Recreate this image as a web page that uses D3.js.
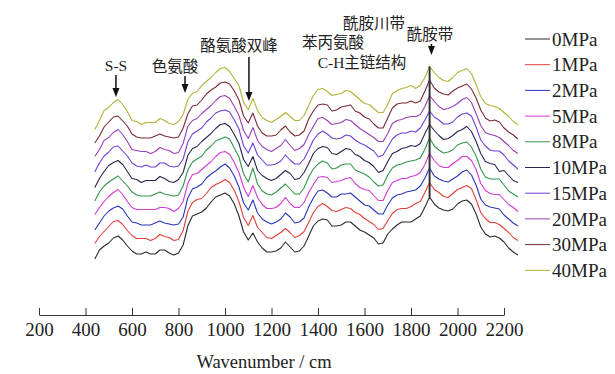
<!DOCTYPE html>
<html>
<head>
<meta charset="utf-8">
<script src="https://cdn.jsdelivr.net/npm/d3@7"></script>
<style>
  body { margin: 0; background: #fff; }
  svg { display: block; }
</style>
</head>
<body>
<div id="chart"></div>
<script>
// legend names and line colours, bottom spectrum first
const pressures = ['0MPa', '1MPa', '2MPa', '5MPa', '8MPa', '10MPa', '15MPa', '20MPa', '30MPa', '40MPa'];
const colors = ['#2b2b2b', '#e0413a', '#2c36b8', '#d23ad6', '#33954a', '#262650', '#7040d8', '#9a3fb8', '#7a2a36', '#b3b23a'];

// sampling grid (wavenumber, as read against the drawn axis)
const wavenumbers = d3.range(440, 2261, 20);

// intensity of each spectrum above its own baseline (a.u.)
const s0 = [1,10,14,17,22,24,20,14,9,6, 6,8,6,6,10,10,7,5,7,15, 34,44,46,48,52,58,63,65,67,64, 56,44,28,20,27,18,12,8,8,9, 12,18,13,8,9,14,24,34,39,41, 40,34,34,35,38,38,34,30,28,25, 22,16,17,26,31,35,38,38,38,41, 44,53,63,56,52,50,49,51,56,59, 60,56,46,33,26,23,24,22,18,12, 8,5];
const s1 = [2,9,14,19,24,25,21,15,10,7, 7,7,5,7,11,9,8,5,6,15, 34,43,46,47,52,58,61,63,66,63, 55,44,28,20,30,18,13,8,7,10, 13,17,13,8,10,14,23,33,39,42, 39,35,34,36,38,37,33,31,27,24, 21,16,17,25,32,36,37,37,39,42, 44,53,63,56,53,49,48,52,56,58, 60,57,46,33,27,23,23,21,17,13, 8,5];
const s2 = [1,8,15,20,23,25,22,15,9,8, 6,6,6,8,10,8,7,6,7,14, 33,42,44,47,53,57,60,64,67,63, 55,44,28,21,31,18,12,9,7,9, 12,18,14,8,9,13,24,33,40,41, 38,34,34,37,37,38,34,30,26,25, 21,17,17,26,33,36,37,39,40,41, 45,53,63,55,52,50,49,52,55,59, 61,56,46,32,26,24,23,22,16,12, 8,5];
const s5 = [2,9,15,20,24,27,22,15,9,7, 7,7,7,7,9,9,8,5,8,15, 33,42,43,47,51,55,60,64,65,62, 54,44,29,20,31,19,12,8,8,9, 13,19,13,9,9,14,24,32,39,40, 39,34,35,36,38,39,33,29,27,26, 21,16,16,26,34,36,38,38,40,41, 44,52,63,56,51,49,49,53,56,60, 60,56,47,33,26,23,22,22,17,12, 9,5];
const s8 = [1,10,16,20,23,26,21,16,10,7, 6,6,6,8,10,8,7,6,7,16, 32,40,43,46,52,56,61,63,65,63, 54,45,28,20,34,18,11,8,7,10, 14,18,13,8,8,14,25,33,38,41, 39,33,34,37,38,38,32,30,28,25, 20,16,17,27,34,37,38,40,41,42, 44,53,64,56,52,49,50,52,57,59, 60,55,46,33,25,23,23,23,17,11, 8,5];
const s10 = [0,9,16,22,25,27,23,16,9,8, 5,7,7,7,11,9,6,5,8,15, 32,39,41,46,50,54,59,63,64,61, 53,44,28,21,31,17,12,9,7,9, 13,17,14,8,9,15,24,34,39,41, 40,34,33,36,39,38,33,31,27,25, 21,15,17,26,34,36,39,40,42,41, 44,54,63,57,52,48,49,52,56,58, 61,56,46,34,26,24,23,16,17,12, 7,5];
const s15 = [1,10,17,21,26,27,22,17,10,7, 6,8,6,6,10,10,7,6,7,14, 31,39,42,45,51,55,60,62,63,61, 53,44,27,20,30,18,13,8,8,9, 12,18,13,9,9,14,23,33,39,42, 39,35,34,35,38,37,33,30,28,25, 22,16,18,26,34,38,40,40,42,41, 45,53,62,56,53,49,49,51,56,59, 60,57,46,33,27,23,22,22,18,12, 8,4];
const s20 = [2,9,18,21,26,29,24,17,9,8, 7,7,5,7,11,9,8,5,6,15, 32,38,40,45,49,53,58,62,63,60, 52,43,28,20,31,18,12,9,7,10, 13,19,13,8,10,14,24,32,40,41, 38,34,35,36,39,38,34,30,27,24, 21,17,17,25,35,38,39,41,42,42, 44,52,63,57,52,49,50,52,55,59, 61,56,45,33,26,24,23,21,17,13, 8,5];
const s30 = [1,8,17,22,27,28,23,18,10,7, 6,6,6,8,10,8,7,6,7,16, 30,38,39,44,50,54,57,61,62,60, 53,44,28,21,31,18,11,8,8,9, 14,18,12,8,9,13,25,33,39,40, 39,33,34,37,38,39,33,31,27,25, 20,16,16,26,36,40,41,41,43,41, 43,53,64,56,52,50,49,53,56,58, 60,55,46,34,26,23,24,22,16,12, 9,5];
const s40 = [0,9,19,22,27,30,25,18,9,8, 5,7,7,7,11,9,6,5,8,15, 30,36,38,44,48,52,57,61,62,58, 51,44,27,20,31,19,12,9,7,10, 13,17,13,9,9,14,24,34,40,41, 38,34,35,36,39,38,34,30,26,25, 21,17,17,25,36,39,41,42,44,41, 44,52,63,57,52,49,48,52,57,59, 61,56,45,33,26,24,23,21,17,13, 8,5];
const spectra = [s0, s1, s2, s5, s8, s10, s15, s20, s30, s40];

const tickValues = [200, 400, 600, 800, 1000, 1200, 1400, 1600, 1800, 2000, 2200];
const axisTitle = 'Wavenumber / cm';

const W = 615, H = 374;
const serif = '"Liberation Serif", "Times New Roman", serif';
const cjk = '"Liberation Serif", "Noto Sans CJK SC", sans-serif';
const stackGap = 14.5; // vertical spacing between stacked spectra

const svg = d3.select('#chart').append('svg')
  .attr('width', W)
  .attr('height', H);

const x = d3.scaleLinear().domain([200, 2200]).range([39, 504]);
const y = d3.scaleLinear().domain([0, 200]).range([260, 60]);

// x axis, ticks pointing up
const axis = svg.append('g')
  .attr('transform', 'translate(0,315)')
  .call(d3.axisBottom(x)
    .tickValues(tickValues)
    .tickFormat(d3.format('d'))
    .tickSizeInner(-7)
    .tickSizeOuter(0)
    .tickPadding(8));
axis.select('.domain').attr('stroke', '#333');
axis.selectAll('.tick line').attr('stroke', '#333');
axis.selectAll('.tick text')
  .attr('fill', '#222')
  .style('font-family', serif)
  .style('font-size', '19px');

svg.append('text')
  .attr('x', 264)
  .attr('y', 368)
  .attr('text-anchor', 'middle')
  .attr('fill', '#222')
  .style('font-family', serif)
  .style('font-size', '18.5px')
  .text(axisTitle);

// stacked spectra
spectra.forEach((vals, i) => {
  const line = d3.line()
    .x((d, j) => x(wavenumbers[j]))
    .y(d => y(d + i * stackGap));
  svg.append('path')
    .datum(vals)
    .attr('fill', 'none')
    .attr('stroke', colors[i])
    .attr('stroke-width', 1.1)
    .attr('stroke-linejoin', 'round')
    .attr('d', line);
});

// amide I marker line through every spectrum
const amideIdx = wavenumbers.indexOf(1880);
const topIdx = spectra.length - 1;
svg.append('line')
  .attr('x1', x(wavenumbers[amideIdx])).attr('x2', x(wavenumbers[amideIdx]))
  .attr('y1', y(spectra[topIdx][amideIdx] + topIdx * stackGap))
  .attr('y2', y(spectra[0][amideIdx]))
  .attr('stroke', '#333')
  .attr('stroke-width', 2);

// annotations
function note(txt, cx, by) {
  svg.append('text')
    .attr('x', cx).attr('y', by)
    .attr('text-anchor', 'middle')
    .attr('fill', '#222')
    .style('font-family', cjk)
    .style('font-size', '15.5px')
    .text(txt);
}
function arrow(wn, y1, y2) {
  const ax = x(wn);
  svg.append('line')
    .attr('x1', ax).attr('x2', ax)
    .attr('y1', y1).attr('y2', y2 - 6)
    .attr('stroke', '#111').attr('stroke-width', 1.5);
  svg.append('path')
    .attr('d', `M${ax - 3.5},${y2 - 9}L${ax + 3.5},${y2 - 9}L${ax},${y2}Z`)
    .attr('fill', '#111');
}

note('S-S', 116, 71);
arrow(531, 75, 97);
note('色氨酸', 175, 72);
arrow(828, 76, 93);
note('酪氨酸双峰', 239, 51);
arrow(1103, 57, 101);
note('苯丙氨酸', 333, 48);
note('酰胺川带', 374, 29);
note('酰胺带', 430, 40);
arrow(1888, 44, 55);
note('C-H主链结构', 362, 68);

// legend
const legend = svg.append('g');
pressures.forEach((p, i) => {
  const ly = 39 + i * 25.7;
  legend.append('line')
    .attr('x1', 525).attr('x2', 550)
    .attr('y1', ly).attr('y2', ly)
    .attr('stroke', colors[i])
    .attr('stroke-width', 1);
  legend.append('text')
    .attr('x', 552).attr('y', ly)
    .attr('dy', '0.35em')
    .attr('fill', '#222')
    .style('font-family', serif)
    .style('font-size', '19px')
    .text(p);
});
</script>
</body>
</html>
